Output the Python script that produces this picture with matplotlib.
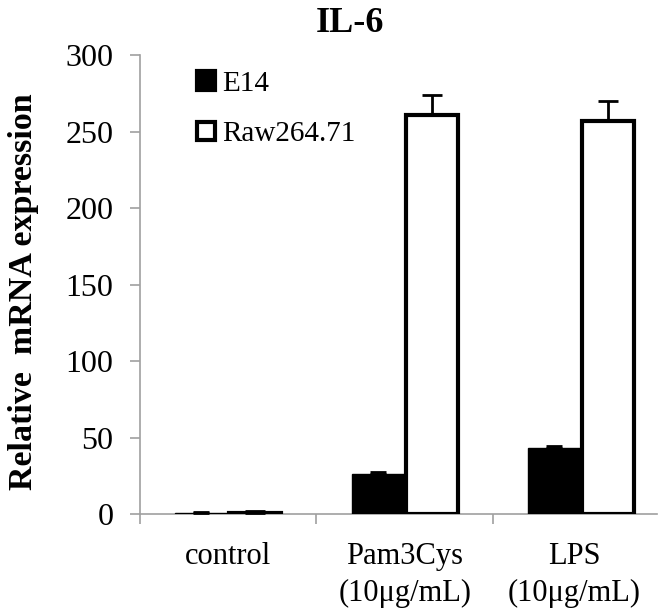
import matplotlib
matplotlib.use("Agg")
import matplotlib.pyplot as plt
import matplotlib.transforms as mtransforms
import numpy as np

categories = ["control", "Pam3Cys\n(10μg/mL)", "LPS\n(10μg/mL)"]
series_names = ["E14", "Raw264.71"]
e14_values = [0.5, 26, 43]
e14_errors = [1.0, 1.5, 1.5]
raw_values = [1.0, 261, 257]
raw_errors = [1.0, 13, 13]
yticks = [0, 50, 100, 150, 200, 250, 300]

plt.rcParams['font.family'] = ['Liberation Serif', 'DejaVu Serif']

fig = plt.figure(figsize=(6.59, 6.10), dpi=100)
ax = fig.add_axes([0.2124, 0.157, 0.7846, 0.7525])

x = np.arange(len(categories)) + 0.5
w = 0.295
gray = '#a0a0a0'

ax.bar(x - w/2 - 0.005, e14_values, w, color='black', edgecolor='black', linewidth=1,
       yerr=[np.zeros(3), e14_errors], capsize=6, error_kw=dict(ecolor='black', elinewidth=1.5, capthick=2),
       label=series_names[0], zorder=3)
ax.bar(x + w/2 + 0.005, raw_values, w, color='white', edgecolor='black', linewidth=3,
       yerr=[np.zeros(3), raw_errors], capsize=7, error_kw=dict(ecolor='black', elinewidth=2, capthick=2),
       label=series_names[1], zorder=3)

ax.set_xlim(0, 2.93)
ax.set_ylim(0, 300)
ax.set_yticks(yticks)
ax.set_xticks([0, 1, 2])
ax.set_xticklabels([])
ax.set_xticks(x, minor=True)
ax.set_xticklabels(categories, minor=True, fontsize=22, linespacing=1.35)
ax.tick_params(axis='x', which='minor', length=0, pad=20)
ax.tick_params(axis='x', which='major', length=7, color=gray, width=1.2)
ax.tick_params(axis='y', length=7, color=gray, width=1.2, labelsize=23, pad=12)
for s in ['top', 'right']:
    ax.spines[s].set_visible(False)
for s in ['left', 'bottom']:
    ax.spines[s].set_color(gray)
    ax.spines[s].set_linewidth(1.2)

# shift the last category label slightly left, as in the reference
minor_labels = ax.get_xticklabels(minor=True)
off = mtransforms.ScaledTranslation(-7/100, 0, fig.dpi_scale_trans)
minor_labels[-1].set_transform(minor_labels[-1].get_transform() + off)

fig.text(0.531, 1 - 23/610, "IL-6", fontsize=26, fontweight='bold', ha='center', va='center')
ax.set_ylabel("Relative  mRNA expression", fontsize=24.5, fontweight='bold')
ax.yaxis.set_label_coords(-0.195, 0.484)

leg = ax.legend(loc='upper left', bbox_to_anchor=(0.088, 0.992), frameon=False, fontsize=21,
                handlelength=0.6, handleheight=0.6, handletextpad=0.25, labelspacing=0.85,
                borderaxespad=0)
for h in leg.legend_handles:
    h.set_linewidth(3)

fig.savefig("out.png", dpi=100)
